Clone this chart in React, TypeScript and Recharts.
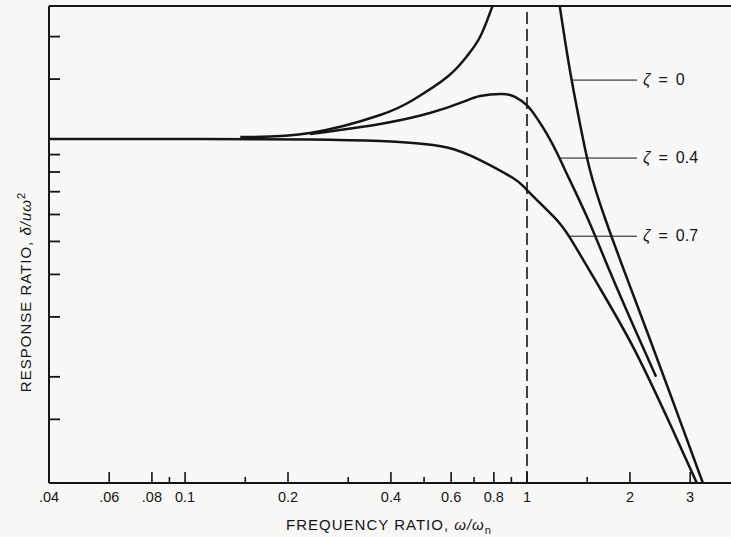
import { LineChart, Line, XAxis, YAxis, ReferenceLine } from "recharts";

// frequency ratio (x) vs response ratio (y)
const zeta0Left = [
  [0.145, 1.014], [0.232, 1.041], [0.372, 1.176], [0.464, 1.302], [0.584, 1.521],
  [0.668, 1.754], [0.729, 1.995], [0.779, 2.347], [0.81, 2.6],
];
const zeta0Right = [
  [1.232, 2.65], [1.291, 1.955], [1.354, 1.47], [1.429, 1.107], [1.528, 0.811],
  [1.69, 0.586], [1.96, 0.39], [2.288, 0.258], [2.8, 0.149], [3.27, 0.0973],
  [3.38, 0.089],
];
const zeta04 = [
  [0.232, 1.034], [0.372, 1.107], [0.52, 1.192], [0.65, 1.285], [0.729, 1.338],
  [0.845, 1.356], [0.922, 1.33], [1.0, 1.255], [1.07, 1.15], [1.144, 1.034],
  [1.224, 0.91], [1.309, 0.788], [1.507, 0.582], [1.749, 0.407], [2.042, 0.284],
  [2.385, 0.2],
];
const zeta07 = [
  [0.04, 1.0], [0.11, 1.0], [0.232, 0.997], [0.372, 0.9865], [0.464, 0.973],
  [0.584, 0.944], [0.729, 0.867], [0.91, 0.768], [1.0, 0.708], [1.191, 0.594],
  [1.336, 0.512], [1.635, 0.364], [2.042, 0.245], [2.567, 0.152], [3.14, 0.0973],
  [3.2, 0.092],
];

// leader lines: label, y level, start x (on the curve), end x
const leaders = [
  { label: "0", y: 1.49, x1: 1.354, x2: 2.098 },
  { label: "0.4", y: 0.879, x1: 1.245, x2: 2.098 },
  { label: "0.7", y: 0.518, x1: 1.33, x2: 2.098 },
];

const X_DOMAIN = [0.04, 3.95];
const Y_DOMAIN = [0.0975, 2.46];
const X_TICKS = [0.04, 0.06, 0.08, 0.09, 0.1, 0.15, 0.2, 0.3, 0.4, 0.5, 0.6, 0.7, 0.8, 0.9, 1, 1.5, 2, 3];
const X_LABELS: Record<string, string> = {
  "0.04": ".04", "0.06": ".06", "0.08": ".08", "0.1": "0.1", "0.2": "0.2",
  "0.4": "0.4", "0.6": "0.6", "0.8": "0.8", "1": "1", "2": "2", "3": "3",
};
const Y_TICKS = [0.15, 0.2, 0.3, 0.4, 0.5, 0.6, 0.7, 0.8, 0.9, 1, 1.5, 2];

const INK = "#151515";
const FONT = "'Liberation Sans', Arial, sans-serif";

const toPoints = (pairs: number[][]) => pairs.map(([x, y]) => ({ x, y }));

function XTick(props: any) {
  const { x, y, payload } = props;
  const key = String(payload.value);
  const label = X_LABELS[key];
  const len = payload.value === 0.04 ? 0 : label ? 11 : 6;
  return (
    <g>
      {len > 0 && <line x1={x} y1={y} x2={x} y2={y - len} stroke={INK} strokeWidth={1.6} />}
      {label && (
        <text x={x} y={y + 19} textAnchor="middle" fontSize={14.5} fontFamily={FONT} fill={INK}>
          {label}
        </text>
      )}
    </g>
  );
}

function YTick(props: any) {
  const { x, y } = props;
  return <line x1={x} y1={y} x2={x + 11} y2={y} stroke={INK} strokeWidth={1.8} />;
}

function LeaderLabel(label: string) {
  return (props: any) => {
    const vb = props.viewBox || {};
    const tx = (vb.x ?? 0) + (vb.width ?? 0) + 6;
    const ty = (vb.y ?? 0) + 5;
    return (
      <text x={tx} y={ty} fontSize={16} fontFamily={FONT} fill={INK}>
        <tspan fontStyle="italic">ζ</tspan>
        <tspan dx={8}>=</tspan>
        <tspan dx={8}>{label}</tspan>
      </text>
    );
  };
}

export default function App() {
  const lineProps = {
    dataKey: "y",
    type: "natural" as const,
    dot: false,
    activeDot: false,
    stroke: INK,
    strokeWidth: 2.5,
    isAnimationActive: false,
  };
  return (
    <div style={{ position: "relative", width: 731, height: 537, background: "#f8f8f7", overflow: "hidden" }}>
      <style>{"body{margin:0;overflow:hidden}"}</style>
      <LineChart width={731} height={537} margin={{ top: 6, right: 0, bottom: 14, left: 0 }}>
        <XAxis
          type="number"
          dataKey="x"
          scale="log"
          domain={X_DOMAIN}
          ticks={X_TICKS}
          interval={0}
          allowDataOverflow
          height={40}
          tickSize={0}
          tickMargin={0}
          tickLine={false}
          tick={(p: any) => <XTick {...p} />}
          axisLine={{ stroke: INK, strokeWidth: 2 }}
        />
        <YAxis
          type="number"
          dataKey="y"
          scale="log"
          domain={Y_DOMAIN}
          ticks={Y_TICKS}
          interval={0}
          allowDataOverflow
          width={49}
          tickSize={0}
          tickMargin={0}
          tickLine={false}
          tick={(p: any) => <YTick {...p} />}
          axisLine={{ stroke: INK, strokeWidth: 2 }}
        />
        <ReferenceLine y={Y_DOMAIN[1]} stroke={INK} strokeWidth={2} />
        <ReferenceLine x={1} stroke={INK} strokeWidth={1.6} strokeDasharray="12 5" />
        <Line {...lineProps} data={toPoints(zeta07)} />
        <Line {...lineProps} data={toPoints(zeta04)} />
        <Line {...lineProps} data={toPoints(zeta0Left)} />
        <Line {...lineProps} data={toPoints(zeta0Right)} />
        {leaders.map((l) => (
          <ReferenceLine
            key={l.label}
            segment={[{ x: l.x1, y: l.y }, { x: l.x2, y: l.y }]}
            stroke={INK}
            strokeWidth={1}
            ifOverflow="visible"
            label={LeaderLabel(l.label)}
          />
        ))}
      </LineChart>
      <svg width={731} height={537} style={{ position: "absolute", left: 0, top: 0, pointerEvents: "none" }}>
        <text x={389} y={530} textAnchor="middle" fontSize={15} fontFamily={FONT} fill={INK} letterSpacing={1}>
          FREQUENCY RATIO,{" "}
          <tspan fontStyle="italic">ω/ω</tspan>
          <tspan fontSize={11} dy={4}>n</tspan>
        </text>
        <text
          transform="translate(26, 292) rotate(-90)"
          x={0}
          y={0}
          dy={5}
          textAnchor="middle"
          fontSize={15}
          fontFamily={FONT}
          fill={INK}
          letterSpacing={1}
        >
          RESPONSE RATIO,{" "}
          <tspan fontStyle="italic">δ/uω</tspan>
          <tspan fontSize={11} dy={-6}>2</tspan>
        </text>
      </svg>
    </div>
  );
}
